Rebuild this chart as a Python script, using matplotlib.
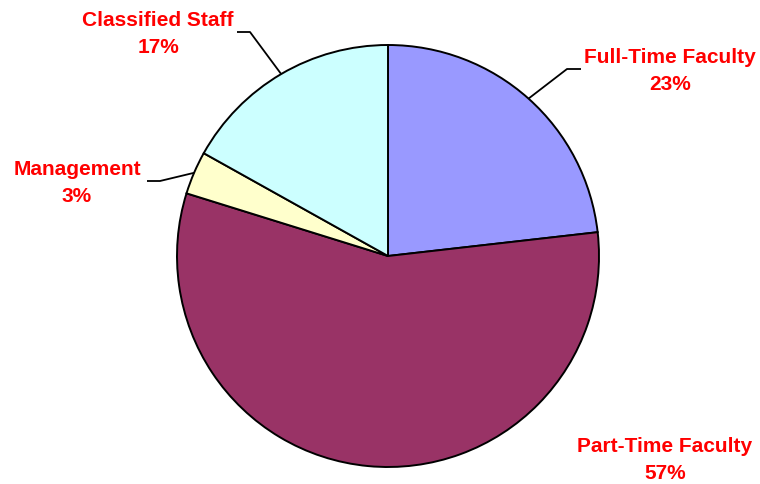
import numpy as np
import matplotlib.pyplot as plt

labels = ['Full-Time Faculty', 'Part-Time Faculty', 'Management', 'Classified Staff']
shares = [23.2, 56.6, 3.3, 16.9]
colors = ['#9999FF', '#993366', '#FFFFCC', '#CCFFFF']

# label text centres (pixels from top-left) and leader elbow, None = no leader
label_pos = [(670, 71), (665, 460), (77, 183), (158, 34)]
elbows = [(567, 70), None, (160, 182), (250, 33)]
elbow_ends = [(581, 70), None, (147, 182), (237, 33)]

W, H = 760, 485
fig = plt.figure(figsize=(W / 100, H / 100), dpi=100)
ax = fig.add_axes([0, 0, 1, 1])

cx, cy, r = 388, H - 257, 211
wedges, _ = ax.pie(shares, colors=colors, startangle=90, counterclock=False,
                   center=(cx, cy), radius=r, frame=True,
                   wedgeprops=dict(edgecolor='black', linewidth=1.4))
ax.set_xlim(0, W)
ax.set_ylim(0, H)
ax.set_aspect('equal')
ax.axis('off')

for w, lab, val, pos, elb, end in zip(wedges, labels, shares, label_pos, elbows, elbow_ends):
    ax.text(pos[0], H - pos[1], f'{lab}\n{val:.0f}%', ha='center', va='center',
            color='#FF0000', fontsize=15, fontweight='bold',
            family='Liberation Sans', linespacing=1.5)
    if elb is None:
        continue
    mid = np.deg2rad((w.theta1 + w.theta2) / 2)
    px, py = cx + r * np.cos(mid), cy + r * np.sin(mid)
    ax.plot([end[0], elb[0], px], [H - end[1], H - elb[1], py],
            color='black', linewidth=1.3, solid_capstyle='butt')

fig.savefig('out.png', dpi=100)
